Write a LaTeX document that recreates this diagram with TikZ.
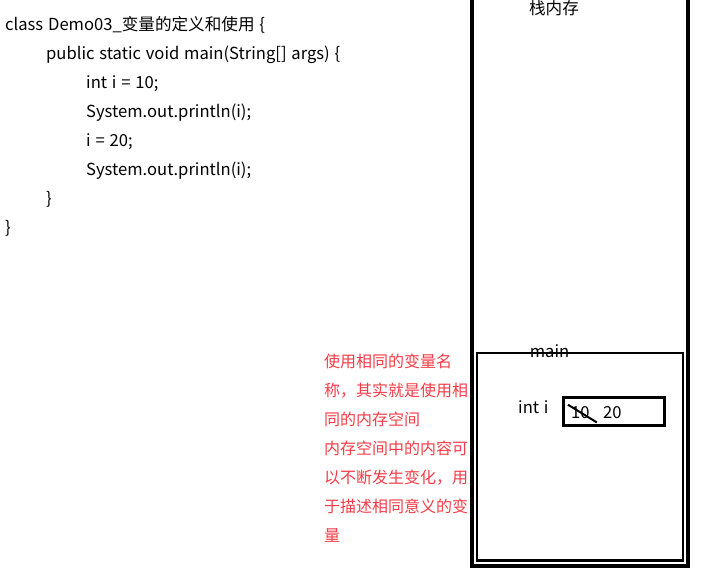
\documentclass[tikz,border=0pt]{standalone}
\usepackage{fontspec}
\usetikzlibrary{calc}
\setmainfont{Noto Sans CJK SC}[WordSpace=1.3]
\definecolor{notered}{RGB}{245,60,70}
\tikzset{
  code/.style={anchor=base west, inner sep=0pt, font=\fontsize{16.6}{19}\selectfont},
  note/.style={anchor=base west, inner sep=0pt, font=\fontsize{16}{19}\selectfont, text=notered},
  lbl/.style={inner sep=0pt, font=\fontsize{16.6}{19}\selectfont},
  frame/.style={draw=black, line width=4pt},
  cell/.style={draw=black, line width=2.5pt}
}
\begin{document}
\begin{tikzpicture}[x=1pt,y=-1pt]
\useasboundingbox (0,0) rectangle (728,571);
% code
\node[code] (c1) at (5,30) {class Demo03\_变量的定义和使用 \{};
\node[code] (c2) at (46,59) {public static void main(String[] args) \{};
\node[code] (c3) at (86,88) {int i = 10;};
\node[code] (c4) at (86,117) {System.out.println(i);};
\node[code] (c5) at (86,146) {i = 20;};
\node[code] (c6) at (86,175) {System.out.println(i);};
\node[code] (c7) at (46,204) {\}};
\node[code] (c8) at (5,233) {\}};
% stack frame
\draw[frame] (471.5,-2) rectangle (688,566);
\node[lbl, anchor=base] (stack) at (554,14) {栈内存};
\draw[cell] (477,353) rectangle (683,560.5);
\node[lbl, anchor=base] (main) at (549.5,357) {main};
\node[lbl, anchor=base west] (inti) at (518,413) {int i};
\node[cell, minimum width=101pt, minimum height=28pt, anchor=north west, inner sep=0pt] (val) at (562,396) {};
\node[lbl, anchor=base west] (v10) at (571,418) {10};
\node[lbl, anchor=base west] (v20) at (603,418) {20};
\draw[line width=2pt] ($(v10.north west)+(-3,-1)$) coordinate (s1) -- ($(v10.south east)+(7,4)$) coordinate (s2);
% note
\node[note] (n1) at (324,367) {使用相同的变量名};
\node[note] (n2) at (324,396) {称，其实就是使用相};
\node[note] (n3) at (324,425) {同的内存空间};
\node[note] (n4) at (324,454) {内存空间中的内容可};
\node[note] (n5) at (324,483) {以不断发生变化，用};
\node[note] (n6) at (324,512) {于描述相同意义的变};
\node[note] (n7) at (324,541) {量};
\end{tikzpicture}
\end{document}
